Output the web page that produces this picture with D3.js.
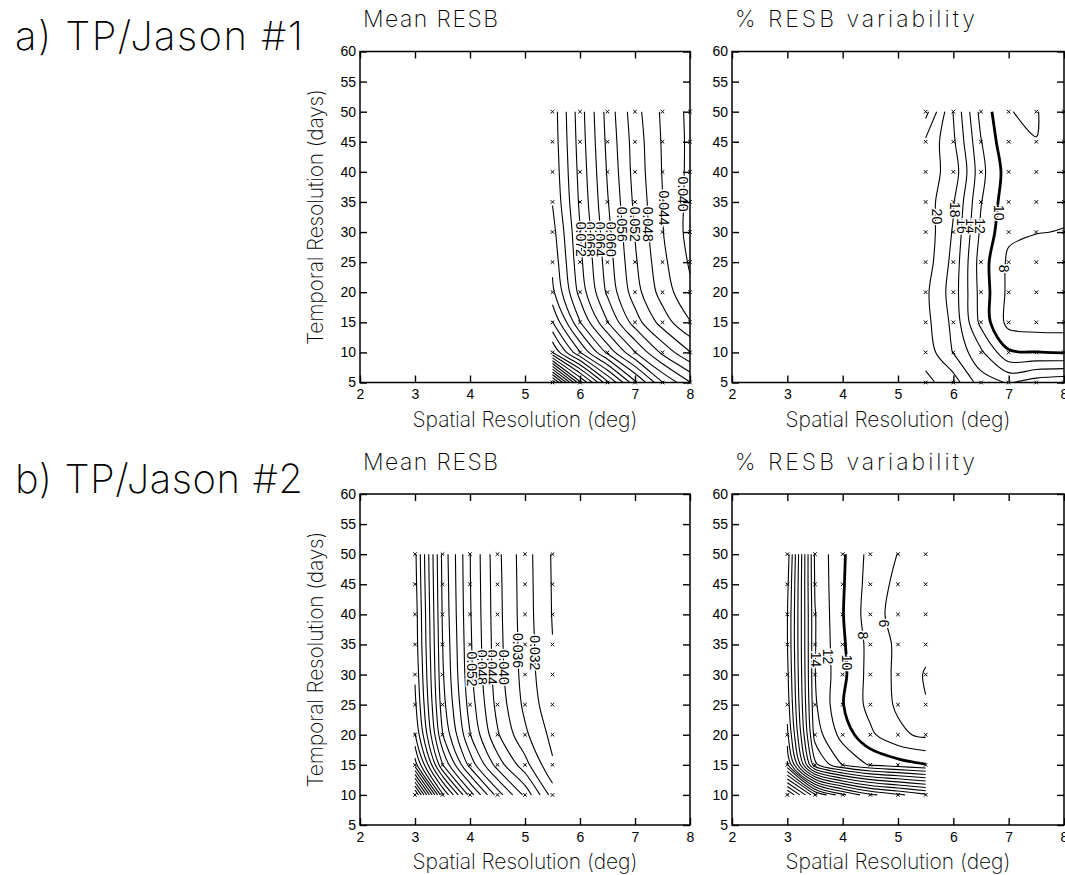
<!DOCTYPE html>
<html>
<head>
<meta charset="utf-8">
<script src="https://cdn.jsdelivr.net/npm/d3@7"></script>
<style>
  body { margin: 0; background: #fff; }
  svg { display: block; }
  .thin { font-family: Inter, Lato, "DejaVu Sans", sans-serif; font-weight: 200; fill: #000; }
  .num { font-family: "Liberation Sans", Arial, sans-serif; }
</style>
</head>
<body>
<svg id="fig" width="1065" height="875"></svg>
<script>
// ---- grid coordinates of the analysed configurations ----
const spatialA = [5.5, 6, 6.5, 7, 7.5, 8];
const temporalA = [5, 10, 15, 20, 25, 30, 35, 40, 45, 50];
const spatialB = [3, 3.5, 4, 4.5, 5, 5.5];
const temporalB = [10, 15, 20, 25, 30, 35, 40, 45, 50];

// ---- mean RESB, TP/Jason #1 (rows follow temporalA, columns follow spatialA) ----
const meanResbA = [
  [0.1510, 0.1210, 0.1010, 0.0850, 0.0722, 0.0642],
  [0.1082, 0.0922, 0.0790, 0.0682, 0.0590, 0.0522],
  [0.0962, 0.0802, 0.0682, 0.0580, 0.0502, 0.0442],
  [0.0890, 0.0745, 0.0632, 0.0538, 0.0462, 0.0408],
  [0.0870, 0.0730, 0.0620, 0.0526, 0.0450, 0.0395],
  [0.0855, 0.0722, 0.0612, 0.0518, 0.0442, 0.0386],
  [0.0838, 0.0713, 0.0603, 0.0511, 0.0441, 0.0388],
  [0.0830, 0.0707, 0.0596, 0.0505, 0.0438, 0.0390],
  [0.0825, 0.0702, 0.0590, 0.0502, 0.0436, 0.0391],
  [0.0822, 0.0698, 0.0585, 0.0495, 0.0433, 0.0390]
];

// ---- % RESB variability, TP/Jason #1 ----
const varResbA = [
  [22.5, 21.0, 17.0, 15.8, 17.0, 17.5],
  [21.2, 17.9, 14.4, 10.3, 10.05, 9.9],
  [20.6, 17.5, 11.4, 7.3, 7.0, 7.0],
  [20.4, 17.1, 11.2, 7.5, 7.2, 7.3],
  [21.0, 17.4, 11.0, 7.6, 7.3, 7.4],
  [21.2, 17.8, 11.6, 8.4, 8.05, 7.95],
  [21.0, 18.2, 12.1, 8.7, 8.3, 8.3],
  [20.8, 19.3, 12.6, 9.0, 8.6, 8.5],
  [21.6, 18.4, 12.1, 8.3, 8.02, 8.6],
  [24.7, 17.9, 11.3, 8.02, 7.9, 9.1]
];

// ---- mean RESB, TP/Jason #2 (rows follow temporalB, columns follow spatialB) ----
const meanResbB = [
  [0.1410, 0.1010, 0.0782, 0.0622, 0.0510, 0.0382],
  [0.1102, 0.0802, 0.0625, 0.0502, 0.0415, 0.0325],
  [0.1002, 0.0722, 0.0562, 0.0445, 0.0368, 0.0308],
  [0.0970, 0.0697, 0.0542, 0.0426, 0.0350, 0.0292],
  [0.0955, 0.0686, 0.0531, 0.0418, 0.0343, 0.0284],
  [0.0945, 0.0681, 0.0527, 0.0415, 0.0341, 0.0281],
  [0.0942, 0.0676, 0.0524, 0.0413, 0.0339, 0.0278],
  [0.0935, 0.0673, 0.0522, 0.0412, 0.0338, 0.0277],
  [0.0930, 0.0670, 0.0521, 0.0410, 0.0337, 0.0276]
];

// ---- % RESB variability, TP/Jason #2 ----
const varResbB = [
  [52.5, 42.5, 36.5, 32.5, 30.5, 28.5],
  [36.5, 18.5, 13.9, 11.8, 10.9, 10.1],
  [32.5, 15.1, 11.2, 8.4, 6.4, 5.6],
  [31.1, 14.3, 10.1, 7.3, 5.7, 4.1],
  [30.5, 14.05, 10.5, 7.2, 5.6, 3.8],
  [30.1, 14.1, 10.3, 7.3, 5.6, 4.6],
  [30.1, 14.1, 10.1, 6.9, 5.2, 4.8],
  [30.5, 13.8, 10.2, 7.1, 5.5, 5.1],
  [31.1, 13.6, 10.3, 7.3, 5.95, 5.5]
];

// ---- contour intervals ----
const meanLevels = d3.range(1, 40).map(k => +(k * 0.004).toFixed(3));
const varLevels = d3.range(1, 28).map(k => k * 2);
const boldLevel = 10;

// ---- in-line contour labels: value, spatial position, temporal position ----
const meanLabelsA = [0.040, 0.044, 0.048, 0.052, 0.056, 0.060, 0.064, 0.068, 0.072];
const meanLabelsAx = [7.88, 7.53, 7.24, 7.0, 6.76, 6.56, 6.37, 6.19, 6.01];
const meanLabelsAy = [36.3, 34.0, 31.3, 31.3, 31.3, 28.8, 28.8, 28.8, 28.8];

const varLabelsA = [20, 18, 16, 14, 12, 10, 8];
const varLabelsAx = [5.70, 6.03, 6.16, 6.32, 6.48, 6.82, 6.92];
const varLabelsAy = [32.6, 33.7, 31.0, 31.0, 31.0, 33.2, 23.9];

const meanLabelsB = [0.032, 0.036, 0.040, 0.044, 0.048, 0.052];
const meanLabelsBx = [5.18, 4.88, 4.61, 4.40, 4.22, 4.04];
const meanLabelsBy = [33.6, 34.0, 31.2, 31.2, 31.2, 30.9];

const varLabelsB = [14, 12, 10, 8, 6];
const varLabelsBx = [3.51, 3.73, 4.08, 4.36, 4.74];
const varLabelsBy = [32.5, 33.0, 32.0, 36.5, 38.5];

// ---- axes ----
const xTickValues = [2, 3, 4, 5, 6, 7, 8];
const yTickValues = [5, 10, 15, 20, 25, 30, 35, 40, 45, 50, 55, 60];

// ---- text ----
const rowTitles = ["a) TP/Jason #1", "b) TP/Jason #2"];
const panelTitles = ["Mean RESB", "% RESB variability"];
const xTitle = "Spatial Resolution (deg)";
const yTitle = "Temporal Resolution (days)";

const svg = d3.select("#fig");

function fmtMean(v) { return v.toFixed(3); }
function fmtVar(v) { return String(v); }

// Split the closed rings from d3.contours into the open iso-lines that lie
// inside the sampled grid (the parts running along the grid border are dropped).
function isoLines(rings, nx, ny) {
  const inside = p => p[0] > 0 && p[0] < nx && p[1] > 0 && p[1] < ny;
  const out = [];
  rings.forEach(ring => {
    const pts = ring.slice(0, -1);
    const start = pts.findIndex(p => !inside(p));
    if (start < 0) { out.push({ pts: pts, closed: true }); return; }
    let run = [];
    for (let k = 1; k <= pts.length; k++) {
      const p = pts[(start + k) % pts.length];
      if (inside(p)) run.push(p);
      else { if (run.length > 1) out.push({ pts: run, closed: false }); run = []; }
    }
    if (run.length > 1) out.push({ pts: run, closed: false });
  });
  return out;
}

function drawPanel(spec) {
  const g = svg.append("g");
  const x = d3.scaleLinear().domain([2, 8]).range([spec.left, spec.right]);
  const y = d3.scaleLinear().domain([5, 60]).range([spec.bottom, spec.top]);

  const nx = spec.xs.length, ny = spec.ys.length;
  const stepX = spec.xs[1] - spec.xs[0], stepY = spec.ys[1] - spec.ys[0];
  const gx = c => spec.xs[0] + (c - 0.5) * stepX;
  const gy = c => spec.ys[0] + (c - 0.5) * stepY;

  const contours = d3.contours().size([nx, ny]).thresholds(spec.levels)(spec.z.flat());
  const open = d3.line().x(p => x(gx(p[0]))).y(p => y(gy(p[1]))).curve(d3.curveCatmullRom.alpha(0.5));
  const closed = d3.line().x(p => x(gx(p[0]))).y(p => y(gy(p[1]))).curve(d3.curveCatmullRomClosed.alpha(0.5));

  const cg = g.append("g").attr("fill", "none").attr("stroke", "#000").attr("stroke-linejoin", "round");
  contours.forEach(c => {
    const rings = [];
    c.coordinates.forEach(poly => poly.forEach(r => rings.push(r)));
    isoLines(rings, nx, ny).forEach(l => {
      cg.append("path")
        .attr("d", l.closed ? closed(l.pts) : open(l.pts))
        .attr("stroke-width", c.value === spec.bold ? 2.8 : 1.1);
    });
  });

  // sample markers
  const mg = g.append("g").attr("stroke", "#000").attr("stroke-width", 1);
  spec.ys.forEach(ty => spec.xs.forEach(sx => {
    mg.append("path")
      .attr("transform", `translate(${x(sx)},${y(ty)})`)
      .attr("d", "M-1.8,-1.8L1.8,1.8M-1.8,1.8L1.8,-1.8");
  }));

  // contour labels
  const lg = g.append("g").attr("class", "num").attr("font-size", 14);
  spec.labels.forEach((v, i) => {
    lg.append("text")
      .attr("transform", `translate(${x(spec.labelsX[i])},${y(spec.labelsY[i])}) rotate(90)`)
      .attr("text-anchor", "middle")
      .attr("dominant-baseline", "central")
      .attr("stroke", "#fff").attr("stroke-width", 3).attr("paint-order", "stroke")
      .attr("fill", "#000")
      .text(spec.fmt(v));
  });

  // frame with inward ticks on every side
  const bottomAxis = d3.axisBottom(x).tickValues(xTickValues).tickSize(-7).tickPadding(7).tickFormat(d3.format("d"));
  const topAxis = d3.axisTop(x).tickValues(xTickValues).tickSize(-7).tickFormat("");
  const leftAxis = d3.axisLeft(y).tickValues(yTickValues).tickSize(-7).tickPadding(4).tickFormat(d3.format("d"));
  const rightAxis = d3.axisRight(y).tickValues(yTickValues).tickSize(-7).tickFormat("");

  const axes = [
    g.append("g").attr("transform", `translate(0,${spec.bottom})`).call(bottomAxis),
    g.append("g").attr("transform", `translate(0,${spec.top})`).call(topAxis),
    g.append("g").attr("transform", `translate(${spec.left},0)`).call(leftAxis),
    g.append("g").attr("transform", `translate(${spec.right},0)`).call(rightAxis)
  ];
  axes.forEach(a => {
    a.select(".domain").remove();
    a.selectAll("line").attr("stroke", "#000").attr("stroke-width", 1.4);
    a.selectAll("text").attr("class", "num").attr("font-size", 14).attr("fill", "#000");
    a.attr("font-family", null).attr("font-size", null);
  });

  g.append("rect")
    .attr("x", spec.left).attr("y", spec.top)
    .attr("width", spec.right - spec.left).attr("height", spec.bottom - spec.top)
    .attr("fill", "none").attr("stroke", "#000").attr("stroke-width", 1.5);

  // titles
  g.append("text").attr("class", "thin")
    .attr("x", spec.left + 3).attr("y", spec.top - 24.5)
    .attr("font-size", 23)
    .attr("textLength", spec.titleLength).attr("lengthAdjust", "spacing")
    .text(spec.title);

  g.append("text").attr("class", "thin")
    .attr("x", (spec.left + spec.right) / 2).attr("y", spec.bottom + 44)
    .attr("text-anchor", "middle").attr("font-size", 21)
    .attr("textLength", 225).attr("lengthAdjust", "spacing")
    .text(xTitle);

  if (spec.yTitle) {
    g.append("text").attr("class", "thin")
      .attr("transform", `translate(${spec.left - 37},${(spec.top + spec.bottom) / 2}) rotate(-90)`)
      .attr("text-anchor", "middle").attr("font-size", 21)
      .attr("textLength", 256).attr("lengthAdjust", "spacing")
      .text(yTitle);
  }
}

const rowTop = [51.5, 494];
const rowBottom = [382.5, 825];

drawPanel({ left: 360, right: 690, top: rowTop[0], bottom: rowBottom[0],
  xs: spatialA, ys: temporalA, z: meanResbA, levels: meanLevels, bold: null,
  labels: meanLabelsA, labelsX: meanLabelsAx, labelsY: meanLabelsAy, fmt: fmtMean,
  title: panelTitles[0], titleLength: 135, yTitle: true });

drawPanel({ left: 732, right: 1064, top: rowTop[0], bottom: rowBottom[0],
  xs: spatialA, ys: temporalA, z: varResbA, levels: varLevels, bold: boldLevel,
  labels: varLabelsA, labelsX: varLabelsAx, labelsY: varLabelsAy, fmt: fmtVar,
  title: panelTitles[1], titleLength: 240, yTitle: false });

drawPanel({ left: 360, right: 690, top: rowTop[1], bottom: rowBottom[1],
  xs: spatialB, ys: temporalB, z: meanResbB, levels: meanLevels, bold: null,
  labels: meanLabelsB, labelsX: meanLabelsBx, labelsY: meanLabelsBy, fmt: fmtMean,
  title: panelTitles[0], titleLength: 135, yTitle: true });

drawPanel({ left: 732, right: 1064, top: rowTop[1], bottom: rowBottom[1],
  xs: spatialB, ys: temporalB, z: varResbB, levels: varLevels, bold: boldLevel,
  labels: varLabelsB, labelsX: varLabelsBx, labelsY: varLabelsBy, fmt: fmtVar,
  title: panelTitles[1], titleLength: 240, yTitle: false });

// row captions
rowTitles.forEach((t, i) => {
  svg.append("text").attr("class", "thin")
    .attr("x", 15).attr("y", rowTop[i] - 1.5)
    .attr("font-size", 40)
    .attr("textLength", 288).attr("lengthAdjust", "spacing")
    .text(t);
});
</script>
</body>
</html>
